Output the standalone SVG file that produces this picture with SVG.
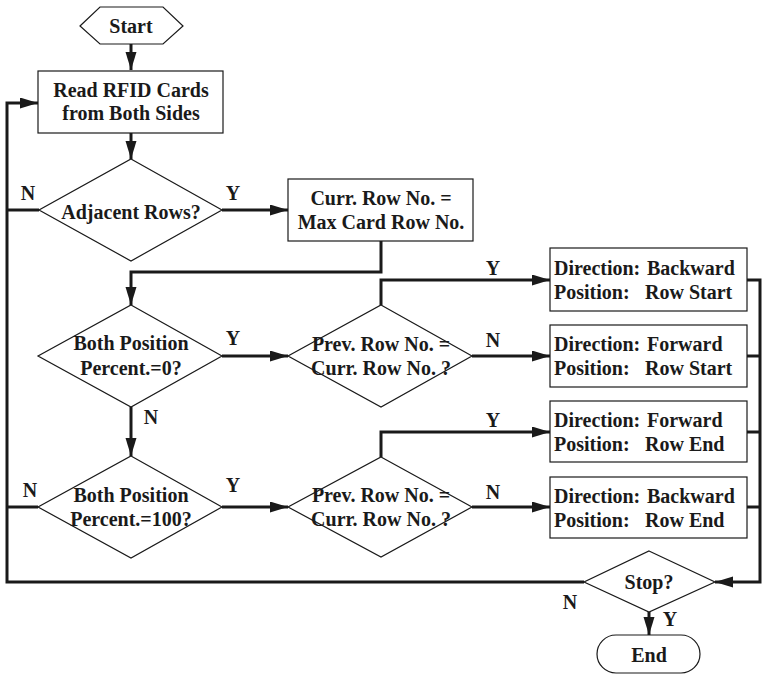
<svg xmlns="http://www.w3.org/2000/svg" width="763" height="676" viewBox="0 0 763 676">
  <style>
    .shape { fill: #ffffff; stroke: #1a1a1a; stroke-width: 1.2; }
    .conn { fill: none; stroke: #1a1a1a; stroke-width: 3; }
    .arr { marker-end: url(#head); }
    text { font-family: "Liberation Serif", "Times New Roman", serif; font-weight: bold; font-size: 20px; fill: #1a1a1a; }
    .c { text-anchor: middle; dominant-baseline: central; }
    .l { dominant-baseline: central; }
  </style>
  <defs>
    <marker id="head" markerUnits="userSpaceOnUse" markerWidth="19" markerHeight="12" refX="18" refY="5.5" orient="auto">
      <path d="M0,0 L18,5.5 L0,11 Z" fill="#1a1a1a"/>
    </marker>
  </defs>

  <!-- connectors -->
  <g id="connectors">
    <path class="conn arr" d="M131,44 V70"/>
    <path class="conn arr" d="M131,133 V159"/>
    <path class="conn arr" d="M222,210 H288"/>
    <path class="conn" d="M39,210 H7"/>
    <path class="conn arr" d="M584,582 H7 V103 H38"/>
    <path class="conn arr" d="M381,241 V272 H131 V305"/>
    <path class="conn arr" d="M222,356 H288"/>
    <path class="conn arr" d="M131,407 V456"/>
    <path class="conn arr" d="M222,507 H288"/>
    <path class="conn" d="M38,507 H7"/>
    <path class="conn arr" d="M381,305 V280 H550"/>
    <path class="conn arr" d="M472,356 H550"/>
    <path class="conn arr" d="M381,457 V432 H550"/>
    <path class="conn arr" d="M472,507 H550"/>
    <path class="conn arr" d="M747,280 H760 V582 H715"/>
    <path class="conn" d="M747,356 H760"/>
    <path class="conn" d="M747,432 H760"/>
    <path class="conn" d="M747,507 H760"/>
    <path class="conn arr" d="M649,612 V635"/>
  </g>

  <!-- connector labels -->
  <g id="labels">
    <text class="c" x="28" y="193">N</text>
    <text class="c" x="233" y="193">Y</text>
    <text class="c" x="233" y="338">Y</text>
    <text class="c" x="151" y="417">N</text>
    <text class="c" x="30" y="490">N</text>
    <text class="c" x="233" y="485">Y</text>
    <text class="c" x="493" y="268">Y</text>
    <text class="c" x="493" y="340">N</text>
    <text class="c" x="493" y="420">Y</text>
    <text class="c" x="493" y="492">N</text>
    <text class="c" x="570" y="602">N</text>
    <text class="c" x="670" y="619">Y</text>
  </g>

  <g id="start">
    <polygon class="shape" points="80,26 100,7 163,7 183,26 163,44 100,44"/>
    <text class="c" x="131" y="26">Start</text>
  </g>

  <g id="read-cards">
    <rect class="shape" x="38" y="71" width="185" height="62"/>
    <text class="c" x="131" y="90">Read RFID Cards</text>
    <text class="c" x="131" y="113">from Both Sides</text>
  </g>

  <g id="adjacent-rows">
    <polygon class="shape" points="131,159 222,210 131,261 39,210"/>
    <text class="c" x="131" y="212">Adjacent Rows?</text>
  </g>

  <g id="curr-row">
    <rect class="shape" x="288" y="179" width="185" height="62"/>
    <text class="c" x="381" y="198">Curr. Row No. =</text>
    <text class="c" x="381" y="222">Max Card Row No.</text>
  </g>

  <g id="percent-zero">
    <polygon class="shape" points="131,305 222,356 131,407 38,356"/>
    <text class="c" x="131" y="343">Both Position</text>
    <text class="c" x="131" y="368">Percent.=0?</text>
  </g>

  <g id="percent-hundred">
    <polygon class="shape" points="131,456 222,507 131,558 38,507"/>
    <text class="c" x="131" y="495">Both Position</text>
    <text class="c" x="131" y="519">Percent.=100?</text>
  </g>

  <g id="prev-row-1">
    <polygon class="shape" points="381,305 472,356 381,407 288,356"/>
    <text class="c" x="381" y="344">Prev. Row No. =</text>
    <text class="c" x="381" y="368">Curr. Row No. ?</text>
  </g>

  <g id="prev-row-2">
    <polygon class="shape" points="381,457 472,507 381,557 288,507"/>
    <text class="c" x="381" y="495">Prev. Row No. =</text>
    <text class="c" x="381" y="519">Curr. Row No. ?</text>
  </g>

  <g id="backward-start">
    <rect class="shape" x="550" y="248" width="197" height="63"/>
    <text class="l" x="554" y="268">Direction: <tspan x="647">Backward</tspan></text>
    <text class="l" x="554" y="292">Position: <tspan x="645">Row Start</tspan></text>
  </g>

  <g id="forward-start">
    <rect class="shape" x="550" y="325" width="197" height="62"/>
    <text class="l" x="554" y="344">Direction: <tspan x="647">Forward</tspan></text>
    <text class="l" x="554" y="368">Position: <tspan x="645">Row Start</tspan></text>
  </g>

  <g id="forward-end">
    <rect class="shape" x="550" y="401" width="197" height="61"/>
    <text class="l" x="554" y="420">Direction: <tspan x="647">Forward</tspan></text>
    <text class="l" x="554" y="444">Position: <tspan x="645">Row End</tspan></text>
  </g>

  <g id="backward-end">
    <rect class="shape" x="550" y="477" width="197" height="61"/>
    <text class="l" x="554" y="496">Direction: <tspan x="647">Backward</tspan></text>
    <text class="l" x="554" y="520">Position: <tspan x="645">Row End</tspan></text>
  </g>

  <g id="stop">
    <polygon class="shape" points="649,551 715,582 649,612 584,582"/>
    <text class="c" x="649" y="582">Stop?</text>
  </g>

  <g id="end">
    <rect class="shape" x="597" y="635" width="103" height="38" rx="19" ry="19"/>
    <text class="c" x="649" y="655">End</text>
  </g>
</svg>
